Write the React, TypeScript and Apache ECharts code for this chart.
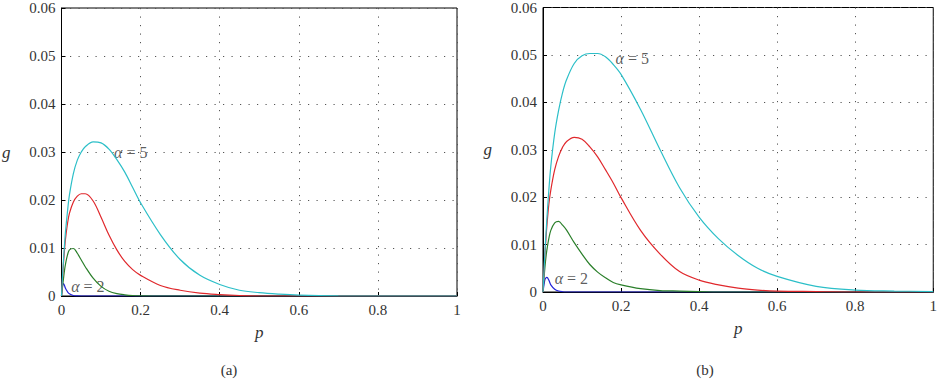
import React, { useEffect, useRef } from "react";
import * as echarts from "echarts";

// common p grid
const P = [0, 0.0025, 0.005, 0.0075, 0.01, 0.015, 0.02, 0.03, 0.04, 0.05, 0.06, 0.08, 0.1, 0.12, 0.14, 0.16, 0.18, 0.2, 0.25, 0.3, 0.35, 0.4, 0.45, 0.5, 0.55, 0.6, 0.7, 0.8, 0.9, 1];

// panel (a)
const aBlue = [0, 0.002, 0.0026, 0.0022, 0.0016, 0.0009, 0.00045, 0.0001, 0.00002, 0, 0, 0, 0, 0, 0, 0, 0, 0, 0, 0, 0, 0, 0, 0, 0, 0, 0, 0, 0, 0];
const aGreen = [0, 0.0018, 0.0036, 0.0053, 0.0066, 0.0085, 0.0096, 0.0099, 0.0089, 0.0075, 0.0061, 0.0037, 0.002, 0.001, 0.0005, 0.00025, 0.0001, 0.00005, 0, 0, 0, 0, 0, 0, 0, 0, 0, 0, 0, 0];
const aRed = [0, 0.0035, 0.0068, 0.0095, 0.0118, 0.015, 0.0172, 0.0196, 0.0208, 0.0213, 0.0213, 0.0198, 0.0164, 0.0127, 0.0096, 0.0072, 0.0055, 0.0043, 0.0022, 0.0012, 0.0006, 0.0003, 0.0001, 0, 0, 0, 0, 0, 0, 0];
const aCyan = [0, 0.004, 0.0075, 0.0105, 0.0133, 0.0175, 0.021, 0.0255, 0.0283, 0.03, 0.0311, 0.0321, 0.0319, 0.0306, 0.0284, 0.0258, 0.0226, 0.0194, 0.0128, 0.0076, 0.0043, 0.0024, 0.0012, 0.0007, 0.0004, 0.0002, 0.00003, 0, 0, 0];

// panel (b)
const bBlue = [0, 0.0015, 0.0026, 0.003, 0.0031, 0.0025, 0.0015, 0.0006, 0.0002, 0.00005, 0, 0, 0, 0, 0, 0, 0, 0, 0, 0, 0, 0, 0, 0, 0, 0, 0, 0, 0, 0];
const bGreen = [0, 0.0028, 0.0053, 0.0073, 0.0089, 0.0113, 0.013, 0.0146, 0.0149, 0.0141, 0.0131, 0.0104, 0.008, 0.0058, 0.0042, 0.003, 0.002, 0.0015, 0.0007, 0.0003, 0.0002, 0.0001, 0, 0, 0, 0, 0, 0, 0, 0];
const bRed = [0, 0.004, 0.008, 0.0112, 0.014, 0.0185, 0.0215, 0.0258, 0.0286, 0.0305, 0.0317, 0.0326, 0.0322, 0.0306, 0.0285, 0.0258, 0.023, 0.0199, 0.013, 0.008, 0.0043, 0.0025, 0.0015, 0.0008, 0.0004, 0.0002, 0.0001, 0, 0, 0];
const bCyan = [0, 0.0042, 0.0085, 0.012, 0.0155, 0.0215, 0.0265, 0.0335, 0.0383, 0.042, 0.0447, 0.0482, 0.0498, 0.0503, 0.0503, 0.0496, 0.048, 0.0459, 0.0385, 0.03, 0.022, 0.0158, 0.0112, 0.0077, 0.005, 0.0033, 0.0012, 0.0004, 0.0002, 0.0001];

// annotation labels: [p, g, alpha]
const aLabels = [[0.133, 0.03, "5"], [0.0245, 0.0019, "2"]];
const bLabels = [[0.186, 0.0493, "5"], [0.03, 0.0029, "2"]];

const panelTitles = ["(a)", "(b)"];
const xName = "p";
const yName = "g";

const FONT = "Liberation Serif, serif";
const TXT = "#333";
const COLORS = { blue: "#2323d8", green: "#2a7f2a", red: "#e0282c", cyan: "#2cbfc8" };

const toData = (vals: number[]) => P.map((p, i) => [p, vals[i]]);

export default function App() {
  const ref = useRef<HTMLDivElement>(null);
  useEffect(() => {
    const chart = echarts.init(ref.current!, null, { renderer: "svg" });
    const grids = [
      { left: 60, top: 8, width: 397, height: 288 },
      { left: 543, top: 5, width: 397, height: 287 },
    ];
    const xAxis = grids.map((_, i) => ({
      type: "value",
      gridIndex: i,
      min: 0,
      max: 1,
      interval: 0.2,
      name: xName,
      nameLocation: "middle",
      nameGap: 28,
      nameTextStyle: { fontFamily: FONT, fontStyle: "italic", fontSize: 17, color: TXT },
      axisLine: { show: true, lineStyle: { color: "#000", width: 1 } },
      axisTick: { show: true, inside: true, length: 4, lineStyle: { color: "#000" } },
      axisLabel: {
        margin: 6,
        fontFamily: FONT,
        fontSize: 15,
        color: TXT,
        formatter: (v: number) => (v === 0 ? "0" : v === 1 ? "1" : v.toFixed(1)),
      },
      splitLine: { show: true, lineStyle: { color: "#555", width: 1, type: [1.2, 7.3] } },
    }));
    const yAxis = grids.map((_, i) => ({
      type: "value",
      gridIndex: i,
      min: 0,
      max: 0.06,
      interval: 0.01,
      name: yName,
      nameLocation: "middle",
      nameRotate: 0,
      nameGap: 51,
      nameTextStyle: { fontFamily: FONT, fontStyle: "italic", fontSize: 17, color: TXT },
      axisLine: { show: true, lineStyle: { color: "#000", width: 1 } },
      axisTick: { show: true, inside: true, length: 4, lineStyle: { color: "#000" } },
      axisLabel: {
        margin: 6,
        fontFamily: FONT,
        fontSize: 15,
        color: TXT,
        formatter: (v: number) => (v === 0 ? "0" : v.toFixed(2)),
      },
      splitLine: { show: true, lineStyle: { color: "#555", width: 1, type: [1.2, 7.3] } },
    }));
    const line = (vals: number[], color: string, idx: number) => ({
      type: "line",
      xAxisIndex: idx,
      yAxisIndex: idx,
      data: toData(vals),
      showSymbol: false,
      symbol: "none",
      smooth: 0.35,
      lineStyle: { color, width: 1.2 },
      silent: true,
    });
    const labelSeries = (labels: any[], idx: number) => ({
      type: "scatter",
      xAxisIndex: idx,
      yAxisIndex: idx,
      symbolSize: 0,
      silent: true,
      data: labels.map((l) => ({ value: [l[0], l[1]], name: l[2] })),
      label: {
        show: true,
        position: "right",
        distance: 0,
        formatter: (pr: any) => `{i|α} = ${pr.name}`,
        fontFamily: FONT,
        fontSize: 16,
        color: TXT,
        rich: { i: { fontFamily: FONT, fontStyle: "italic", fontSize: 16, color: TXT } },
      },
    });
    chart.setOption({
      animation: false,
      backgroundColor: "#fff",
      textStyle: { fontFamily: FONT },
      grid: grids.map((g) => ({ ...g, show: true, borderColor: "#000", borderWidth: 1, backgroundColor: "transparent" })),
      xAxis,
      yAxis,
      series: [
        line(aBlue, COLORS.blue, 0),
        line(aGreen, COLORS.green, 0),
        line(aRed, COLORS.red, 0),
        line(aCyan, COLORS.cyan, 0),
        line(bBlue, COLORS.blue, 1),
        line(bGreen, COLORS.green, 1),
        line(bRed, COLORS.red, 1),
        line(bCyan, COLORS.cyan, 1),
        labelSeries(aLabels, 0),
        labelSeries(bLabels, 1),
      ],
      graphic: [
        { type: "text", x: 229, y: 370, style: { text: panelTitles[0], fontFamily: FONT, fontSize: 15, fill: TXT, align: "center", verticalAlign: "middle" } },
        { type: "text", x: 705, y: 370, style: { text: panelTitles[1], fontFamily: FONT, fontSize: 15, fill: TXT, align: "center", verticalAlign: "middle" } },
      ],
    });
    return () => chart.dispose();
  }, []);
  return (
    <div
      ref={ref}
      style={{ position: "absolute", left: 0, top: 0, width: 940, height: 388, background: "#fff" }}
    />
  );
}
